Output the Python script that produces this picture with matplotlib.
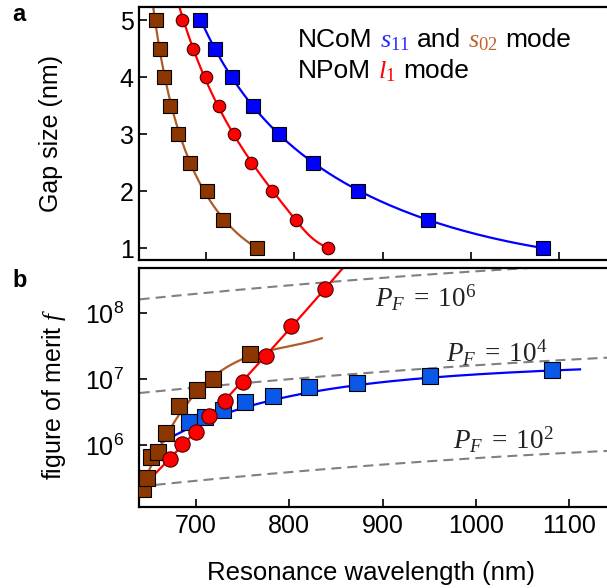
import numpy as np
import matplotlib
matplotlib.use("Agg")
import matplotlib.pyplot as plt
from matplotlib.ticker import FixedLocator, FuncFormatter, NullLocator

plt.rcParams["font.family"] = ["Liberation Sans", "DejaVu Sans"]
plt.rcParams["mathtext.fontset"] = "custom"
plt.rcParams["mathtext.rm"] = "Liberation Serif"
plt.rcParams["mathtext.it"] = "Liberation Serif:italic"
plt.rcParams["mathtext.sf"] = "Liberation Sans"

W, H = 607, 588

# gap sizes (nm), same order for every series
gap_nm = [5.0, 4.5, 4.0, 3.5, 3.0, 2.5, 2.0, 1.5, 1.0]

# resonance wavelengths (nm)
wl_s02 = [643.2, 648.1, 652.6, 659.6, 668.5, 682.2, 700.9, 718.9, 758.3]
wl_l1 = [672.5, 685.6, 700.2, 714.6, 731.2, 750.5, 774.9, 801.8, 838.5]
wl_s11 = [693.2, 710.1, 729.7, 753.2, 782.4, 821.4, 872.6, 951.0, 1081.5]

# figure of merit, log10
logf_s02 = [5.333, 5.50, 5.827, 5.903, 6.191, 6.595, 6.838, 7.00, 7.379]
logf_l1 = [5.788, 6.02, 6.206, 6.444, 6.676, 6.96, 7.353, 7.808, 8.364]
logf_s11 = [6.358, 6.433, 6.535, 6.655, 6.747, 6.888, 6.95, 7.05, 7.141]

# fitted curves in panel b
fit_s11_wl = [663.6, 774.0, 854.7, 951.6, 1111.5]
fit_s11_logf = [6.04, 6.66, 6.87, 7.03, 7.15]
fit_s02_wl = [639.6, 669.0, 699.0, 731.0, 759.0, 792.0, 835.0]
fit_s02_logf = [5.25, 6.18, 6.80, 7.115, 7.34, 7.52, 7.61]

# constant P_F guide lines
pf_wl = [640, 756, 843, 967, 1140]
pf6_logf = [8.212, 8.37, 8.47, 8.61, 8.75]
pf4_logf = [6.797, 6.94, 7.05, 7.19, 7.325]
pf2_logf = [5.383, 5.526, 5.64, 5.79, 5.91]
pf_labels = [r"$P_F\;=\;10^6$", r"$P_F\;=\;10^4$", r"$P_F\;=\;10^2$"]

BLUE = "#0000ff"
BLUE_B = "#0a58e8"
BROWN = "#8c3600"
BROWN_LINE = "#b05a28"
RED = "#ff0000"

fig = plt.figure(figsize=(W / 100, H / 100), dpi=100)


def px_axes(left, top, right, bottom):
    return fig.add_axes([left / W, 1 - bottom / H, (right - left) / W, (bottom - top) / H])


ax_a = px_axes(139.3, 7.3, 660, 260)
ax_b = px_axes(139.3, 268.3, 660, 506.7)

for ax in (ax_a, ax_b):
    for sp in ax.spines.values():
        sp.set_linewidth(1.6)
    ax.tick_params(direction="in", length=5.5, width=1.2, labelsize=18,
                   top=False, right=False)

# ---- panel a ----
g = np.array(gap_nm)
for wl, col, lcol, mk, ms, top in [
    (wl_s02, BROWN, BROWN_LINE, "s", 9.5, 5.3),
    (wl_l1, RED, RED, "o", 9.0, 5.3),
    (wl_s11, BLUE, BLUE, "s", 9.5, 5.0),
]:
    p = np.polyfit(1 / g, wl, 3)
    gcur = np.linspace(1.0, top, 200)
    ax_a.plot(np.polyval(p, 1 / gcur), gcur, color=lcol, lw=1.6, zorder=2)
    ax_a.plot(wl, g, ls="none", marker=mk, ms=ms, mfc=col,
              mec="#400000" if mk == "o" else "black", mew=0.8, zorder=3)

ax_a.set_xlim(624.5, 1214.2)
ax_a.set_ylim(0.79, 5.223)
ax_a.set_xticks([700, 800, 900, 1000, 1100])
ax_a.set_yticks([1, 2, 3, 4, 5])
ax_a.tick_params(axis="x", labelbottom=False)
ax_a.tick_params(axis="y", pad=4)

# legend-like coloured text
renderer = fig.canvas.get_renderer()
FS = 19
space = 0.278 * FS * 100 / 72


def colored_text(x_px, y_px, parts):
    x = x_px
    for s, c in parts:
        t = fig.text(x / W, 1 - y_px / H, s, color=c, fontsize=FS,
                     ha="left", va="baseline")
        x += t.get_window_extent(renderer).width + space


colored_text(298, 47, [("NCoM", "black"), ("$s_{11}$", "#2a2aff"),
                       ("and", "black"), ("$s_{02}$", "#c0622f"), ("mode", "black")])
colored_text(298, 78, [("NPoM", "black"), ("$l_1$", RED), ("mode", "black")])

# ---- panel b ----
xx = np.linspace(640, 1200, 200)
for vals in (pf6_logf, pf4_logf, pf2_logf):
    p = np.polyfit(pf_wl, vals, 2)
    ax_b.plot(xx, 10 ** np.polyval(p, xx), color="#808080", lw=1.5,
              dashes=(4.8, 2.9), zorder=1.5)

xx = np.linspace(fit_s11_wl[0], fit_s11_wl[-1], 200)
p = np.polyfit(1 / np.array(fit_s11_wl), fit_s11_logf, 3)
ax_b.plot(xx, 10 ** np.polyval(p, 1 / xx), color=BLUE, lw=1.6, zorder=2)

xx = np.linspace(fit_s02_wl[0], fit_s02_wl[-1], 200)
p = np.polyfit(fit_s02_wl, fit_s02_logf, 3)
ax_b.plot(xx, 10 ** np.polyval(p, xx), color=BROWN_LINE, lw=1.6, zorder=2)

p = np.polyfit(wl_l1, logf_l1, 2)
xx = np.linspace(654, 875, 200)
ax_b.plot(xx, 10 ** np.polyval(p, xx), color=RED, lw=1.6, zorder=2)

ax_b.plot(wl_s11, 10 ** np.array(logf_s11), ls="none", marker="s", ms=12,
          mfc=BLUE_B, mec="black", mew=0.8, zorder=3)
ax_b.plot(wl_s02, 10 ** np.array(logf_s02), ls="none", marker="s", ms=12,
          mfc=BROWN, mec="black", mew=0.8, zorder=3.1)
ax_b.plot(wl_l1, 10 ** np.array(logf_l1), ls="none", marker="o", ms=11,
          mfc=RED, mec="#500000", mew=0.8, zorder=3.2)

for lab, (xp, yp) in zip(pf_labels, [(375, 306.7), (446, 361.7), (453, 448.3)]):
    fig.text(xp / W, 1 - yp / H, lab, fontsize=19.5, color="#222222",
             ha="left", va="baseline", zorder=1)

ax_b.set_yscale("log")
ax_b.set_xlim(639.6, 1197.1)
ax_b.set_ylim(10 ** 5.07, 10 ** 8.682)
ax_b.set_xticks([700, 800, 900, 1000, 1100])
ax_b.yaxis.set_major_locator(FixedLocator([1e6, 1e7, 1e8]))
ax_b.yaxis.set_major_formatter(FuncFormatter(
    lambda v, pos: r"$\mathsf{10^{%d}}$" % round(np.log10(v))))
ax_b.yaxis.set_minor_locator(NullLocator())
ax_b.tick_params(axis="y", pad=11)
ax_b.tick_params(axis="x", pad=5)

# axis labels and panel letters
fig.text(51 / W, 1 - 133.7 / H, "Gap size (nm)", rotation=90, fontsize=18,
         ha="center", va="center")
fig.text(54 / W, 1 - 394 / H, "figure of merit $f$", rotation=90, fontsize=18,
         ha="center", va="center")
fig.text(371 / W, 1 - 580 / H, "Resonance wavelength (nm)", fontsize=18.5,
         ha="center", va="baseline")
fig.text(12 / W, 1 - 21 / H, "a", fontsize=17, fontweight="bold", va="baseline")
fig.text(12 / W, 1 - 287 / H, "b", fontsize=17, fontweight="bold", va="baseline")

fig.savefig("out.png", dpi=100)
